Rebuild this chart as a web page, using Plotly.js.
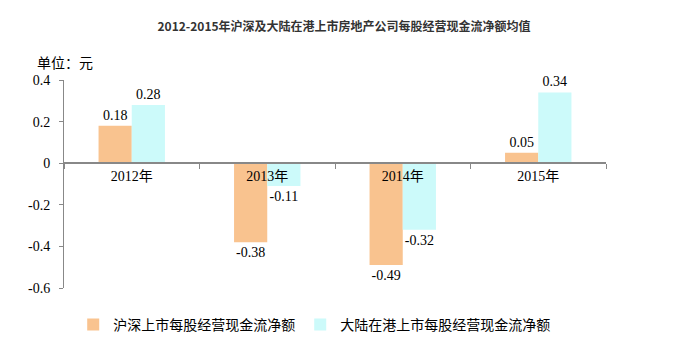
<!DOCTYPE html>
<html><head><meta charset="utf-8">
<script src="https://cdn.plot.ly/plotly-3.0.1.min.js"></script>
<style>body{margin:0;background:#fff}#c{width:676px;height:360px}</style>
</head><body><div id="c"></div>
<script>
const categories = ["2012年","2013年","2014年","2015年"];
const seriesNames = ["沪深上市每股经营现金流净额","大陆在港上市每股经营现金流净额"];
const shenzhenShanghai = [0.18, -0.38, -0.49, 0.05];
const hongKong = [0.28, -0.11, -0.32, 0.34];
const yTickVals = [0.4, 0.2, 0, -0.2, -0.4, -0.6];
const yTickText = ["0.4","0.2","0","-0.2","-0.4","-0.6"];

const serif = "Liberation Serif, 'Times New Roman', 'Noto Sans CJK SC', serif";
const cjk = "'Noto Sans CJK SC', sans-serif";
const mk = (vals, name, color) => ({
  type: 'bar', x: categories, y: vals, name: name,
  marker: {color: color},
  text: vals.map(v => String(v)), textposition: 'outside',
  textfont: {family: serif, size: 14, color: '#000'},
  cliponaxis: false, hoverinfo: 'none'
});
const data = [
  mk(shenzhenShanghai, seriesNames[0], '#F9C38F'),
  mk(hongKong, seriesNames[1], '#CCFAFA')
];
const layout = {
  width: 676, height: 360,
  margin: {l: 64, r: 70, t: 80, b: 72},
  paper_bgcolor: '#fff', plot_bgcolor: '#fff',
  barmode: 'group', bargap: 0.51, bargroupgap: 0,
  title: {text: '2012-2015年沪深及大陆在港上市房地产公司每股经营现金流净额均值',
    font: {family: cjk, size: 12, color: '#333', weight: 'bold'},
    xref: 'container', x: 0.509, xanchor: 'center', yref: 'container', y: 0.925, yanchor: 'middle'},
  xaxis: {anchor: 'free', position: 0.6, showline: true, linecolor: '#888', linewidth: 2,
    ticks: 'outside', tickson: 'boundaries', ticklen: 5, tickcolor: '#888', tickwidth: 1,
    tickfont: {family: serif, size: 14, color: '#000'}, showgrid: false, zeroline: false,
    fixedrange: true},
  yaxis: {range: [-0.6, 0.4], tickvals: yTickVals, ticktext: yTickText,
    showline: true, linecolor: '#888', linewidth: 1, ticks: 'outside', ticklen: 4, tickcolor: '#888',
    ticklabelstandoff: 6,
    tickfont: {family: serif, size: 14, color: '#000'}, showgrid: false, zeroline: false},
  showlegend: true,
  legend: {orientation: 'h', x: 0.017, xanchor: 'left', y: -0.178, yanchor: 'middle',
    font: {family: cjk, size: 14, color: '#000'}, traceorder: 'normal'},
  annotations: [{text: '单位：元', xref: 'paper', yref: 'paper', x: -0.0535, y: 1.087,
    xanchor: 'left', yanchor: 'middle', showarrow: false,
    font: {family: cjk, size: 14, color: '#000'}}]
};
Plotly.newPlot('c', data, layout, {displayModeBar: false, staticPlot: true});
</script></body></html>
